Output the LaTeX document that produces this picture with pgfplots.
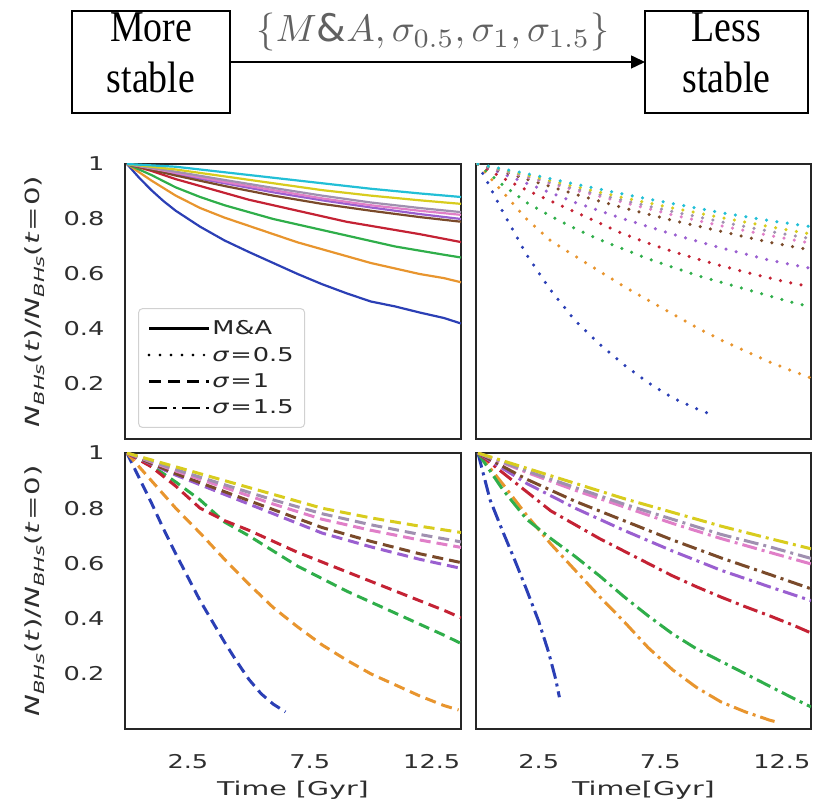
\documentclass[border=0pt]{standalone}
\usepackage{pgfplots}
\pgfplotsset{compat=1.18}
\usepackage{fontspec}
\usepackage{graphicx}
\usetikzlibrary{arrows.meta}
\setmainfont{DejaVu Sans}
\newfontfamily\tickfont[FakeStretch=1.35, ItalicFont={DejaVu Sans Oblique}]{DejaVu Sans}
\newfontfamily\labfont[FakeStretch=1.5, ItalicFont={DejaVu Sans Oblique}]{DejaVu Sans}
\newfontfamily\seriffont[FakeStretch=0.86]{Liberation Serif}

\definecolor{c1}{HTML}{2B3FB5}
\definecolor{c2}{HTML}{E8952E}
\definecolor{c3}{HTML}{2FAE4A}
\definecolor{c4}{HTML}{C42234}
\definecolor{c5}{HTML}{9A5FD0}
\definecolor{c6}{HTML}{7A4A2A}
\definecolor{c7}{HTML}{E07FC8}
\definecolor{c8}{HTML}{A090B0}
\definecolor{c9}{HTML}{D8CC1E}
\definecolor{c10}{HTML}{22BFD6}

\tikzset{
 solidl/.style={line width=2.2pt, solid},
 dotl/.style={line width=3.5pt, line cap=round, dash pattern=on 0pt off 10.5pt},
 dashl/.style={line width=3pt, dash pattern=on 11pt off 6pt},
 dashdotl/.style={line width=3pt, dash pattern=on 15pt off 5pt on 3pt off 5pt},
}

\newcommand{\sub}[1]{\raisebox{-0.25em}{\fontsize{14}{14}\selectfont\itshape #1}}
\newcommand{\ylab}{\textit{N}\sub{BHs}(\textit{t})/\textit{N}\sub{BHs}(\textit{t}\kern1pt=\kern1pt0)}

\pgfplotsset{
 base/.style={
  scale only axis, anchor=south west,
  xmin=-0.08, xmax=13.7, ymin=0, ymax=1,
  axis line style={line width=1.8pt, draw=black!85},
  major tick length=0pt, tick style={draw=none},
  /pgf/number format/assume math mode=true,
  tick label style={font=\fontsize{19}{19}\tickfont, text=black!82},
  yticklabel style={anchor=east, xshift=-17pt},
  xticklabel style={anchor=north, yshift=-22pt},
  every axis y label/.style={at={(axis description cs:-0.268,0.5)}, rotate=90, anchor=center, font=\fontsize{19.5}{19.5}\labfont, text=black!82},
  every axis x label/.style={at={(axis description cs:0.5,0)}, anchor=center, yshift=-61pt, font=\fontsize{19}{19}\labfont, text=black!82},
  no markers, clip=true,
 },
}

\begin{document}
\begin{tikzpicture}
\useasboundingbox (0,0) rectangle (822pt,803pt);

% ---------------- top-left: M&A (solid)
\begin{axis}[base, at={(125pt,364pt)}, width=336pt, height=275pt,
  xtick=\empty, ytick={0.2,0.4,0.6,0.8,1}, yticklabels={0.2,0.4,0.6,0.8,1},
  ylabel={\ylab},
  legend style={at={(0.039,0.04)}, anchor=south west, draw=black!18, line width=1pt,
    rounded corners=4pt, fill=white, font=\fontsize{19}{19}\tickfont, text=black!85,
    row sep=7pt, inner xsep=9pt, inner ysep=10pt},
  legend cell align=left,
  legend image code/.code={\draw[#1] (0pt,0pt) -- (50pt,0pt); \path (0pt,0pt) -- (60pt,0pt);}]
\addplot[c1, solidl, forget plot] coordinates {(0,1)(0.5,0.95)(1,0.905)(1.5,0.865)(2,0.83)(3,0.772)(4,0.722)(5,0.68)(6,0.64)(7,0.60)(8,0.563)(9,0.53)(10,0.50)(11,0.482)(12,0.46)(13,0.44)(13.7,0.42)};
\addplot[c2, solidl, forget plot] coordinates {(0,1)(1,0.94)(2,0.885)(3,0.84)(4,0.805)(5,0.775)(6,0.745)(7,0.715)(8,0.69)(9,0.665)(10,0.64)(11,0.62)(12,0.60)(13,0.585)(13.7,0.57)};
\addplot[c3, solidl, forget plot] coordinates {(0,1)(1,0.96)(2,0.915)(3,0.88)(4,0.85)(5,0.825)(6,0.80)(7,0.78)(8,0.76)(9,0.74)(10,0.72)(11,0.70)(12,0.685)(13,0.67)(13.7,0.66)};
\addplot[c4, solidl, forget plot] coordinates {(0,1)(1,0.975)(2,0.945)(3,0.92)(4,0.895)(5,0.87)(6,0.85)(7,0.83)(8,0.81)(9,0.79)(10,0.775)(11,0.76)(12,0.745)(13,0.728)(13.7,0.716)};
\addplot[c5, solidl, forget plot] coordinates {(0,1)(2,0.963)(4,0.93)(6,0.897)(8,0.868)(10,0.842)(12,0.818)(13.7,0.80)};
\addplot[c6, solidl, forget plot] coordinates {(0,1)(2,0.958)(4,0.92)(6,0.885)(8,0.855)(10,0.83)(12,0.807)(13.7,0.79)};
\addplot[c7, solidl, forget plot] coordinates {(0,1)(2,0.968)(4,0.935)(6,0.905)(8,0.875)(10,0.85)(12,0.83)(13.7,0.815)};
\addplot[c8, solidl, forget plot] coordinates {(0,1)(2,0.972)(4,0.942)(6,0.913)(8,0.885)(10,0.86)(12,0.84)(13.7,0.825)};
\addplot[c9, solidl, forget plot] coordinates {(0,1)(2,0.98)(4,0.955)(6,0.93)(8,0.905)(10,0.885)(12,0.868)(13.7,0.855)};
\addplot[c10, solidl, forget plot] coordinates {(0,1)(2,0.99)(4,0.97)(6,0.95)(8,0.93)(10,0.91)(12,0.893)(13.7,0.88)};
\addlegendimage{black, line width=2.6pt}
\addlegendentry{M\&A}
\addlegendimage{black, line width=2.8pt, line cap=round, dash pattern=on 0pt off 11pt}
\addlegendentry{\textit{σ}\kern1pt=\kern1pt0.5}
\addlegendimage{black, line width=2.6pt, dash pattern=on 12pt off 7pt}
\addlegendentry{\textit{σ}\kern1pt=\kern1pt1}
\addlegendimage{black, line width=2.6pt, dash pattern=on 18pt off 6pt on 3pt off 6pt}
\addlegendentry{\textit{σ}\kern1pt=\kern1pt1.5}
\end{axis}

% ---------------- top-right: sigma 0.5 (dotted)
\begin{axis}[base, at={(476pt,364pt)}, width=335pt, height=275pt,
  xtick=\empty, ytick=\empty]
\addplot[c1, dotl] coordinates {(0,1)(1,0.83)(2,0.67)(3,0.54)(4,0.43)(5,0.345)(6,0.27)(7,0.205)(8,0.15)(9,0.11)(9.45,0.094)};
\addplot[c2, dotl] coordinates {(0,1)(1,0.90)(2,0.80)(3,0.72)(4,0.665)(5,0.61)(6,0.555)(7,0.505)(8,0.455)(9,0.405)(10,0.36)(11,0.32)(12,0.28)(13,0.245)(13.7,0.222)};
\addplot[c3, dotl] coordinates {(0,1)(1,0.925)(2,0.86)(3,0.81)(4,0.765)(5,0.725)(6,0.69)(7,0.655)(8,0.625)(9,0.595)(10,0.57)(11,0.545)(12,0.52)(13,0.495)(13.7,0.48)};
\addplot[c4, dotl] coordinates {(0,1)(1,0.95)(2,0.905)(3,0.865)(4,0.825)(5,0.785)(6,0.745)(7,0.712)(8,0.682)(9,0.655)(10,0.63)(11,0.607)(12,0.585)(13,0.565)(13.7,0.553)};
\addplot[c5, dotl] coordinates {(0,1)(2,0.93)(4,0.86)(6,0.80)(8,0.745)(10,0.695)(12,0.65)(13.7,0.62)};
\addplot[c6, dotl] coordinates {(0,1)(2,0.945)(4,0.89)(6,0.84)(8,0.795)(10,0.755)(12,0.715)(13.7,0.687)};
\addplot[c7, dotl] coordinates {(0,1)(2,0.952)(4,0.905)(6,0.86)(8,0.815)(10,0.775)(12,0.74)(13.7,0.712)};
\addplot[c8, dotl] coordinates {(0,1)(2,0.955)(4,0.91)(6,0.867)(8,0.827)(10,0.79)(12,0.755)(13.7,0.728)};
\addplot[c9, dotl] coordinates {(0,1)(2,0.96)(4,0.918)(6,0.877)(8,0.84)(10,0.805)(12,0.772)(13.7,0.745)};
\addplot[c10, dotl] coordinates {(0,1)(2,0.965)(4,0.927)(6,0.89)(8,0.856)(10,0.823)(12,0.794)(13.7,0.772)};
\end{axis}

% ---------------- bottom-left: sigma 1 (dashed)
\begin{axis}[base, at={(125pt,74pt)}, width=336pt, height=276pt,
  xtick={2.5,7.5,12.5}, xticklabels={2.5,7.5,12.5},
  ytick={0.2,0.4,0.6,0.8,1}, yticklabels={0.2,0.4,0.6,0.8,1},
  ylabel={\ylab}, xlabel={Time [Gyr]}]
\addplot[c1, dashl] coordinates {(0,1)(0.5,0.91)(1,0.82)(1.5,0.725)(2,0.635)(2.5,0.55)(3,0.465)(3.5,0.39)(4,0.315)(4.5,0.245)(5,0.18)(5.5,0.128)(6,0.09)(6.5,0.062)};
\addplot[c2, dashl] coordinates {(0,1)(1,0.90)(2,0.80)(3,0.71)(4,0.615)(5,0.525)(6,0.44)(7,0.37)(8,0.305)(9,0.25)(10,0.20)(11,0.16)(12,0.12)(13,0.085)(13.6,0.069)};
\addplot[c3, dashl] coordinates {(0,1)(1,0.955)(2,0.895)(3,0.83)(4,0.75)(5,0.70)(6,0.645)(7,0.59)(8,0.545)(9,0.50)(10,0.46)(11,0.42)(12,0.38)(13,0.34)(13.7,0.31)};
\addplot[c4, dashl] coordinates {(0,1)(1,0.95)(2,0.88)(3,0.80)(4,0.755)(5,0.72)(6,0.68)(7,0.64)(8,0.605)(9,0.57)(10,0.535)(11,0.50)(12,0.465)(13,0.43)(13.7,0.403)};
\addplot[c5, dashl] coordinates {(0,1)(2,0.92)(4,0.85)(6,0.78)(8,0.71)(10,0.66)(12,0.615)(13.7,0.582)};
\addplot[c6, dashl] coordinates {(0,1)(2,0.925)(4,0.86)(6,0.795)(8,0.73)(10,0.68)(12,0.635)(13.7,0.603)};
\addplot[c7, dashl] coordinates {(0,1)(2,0.935)(4,0.875)(6,0.815)(8,0.76)(10,0.72)(12,0.685)(13.7,0.658)};
\addplot[c8, dashl] coordinates {(0,1)(2,0.94)(4,0.885)(6,0.83)(8,0.78)(10,0.74)(12,0.705)(13.7,0.678)};
\addplot[c9, dashl] coordinates {(0,1)(2,0.95)(4,0.90)(6,0.85)(8,0.80)(10,0.765)(12,0.735)(13.7,0.712)};
\end{axis}

% ---------------- bottom-right: sigma 1.5 (dash-dot)
\begin{axis}[base, at={(476pt,74pt)}, width=335pt, height=276pt,
  xtick={2.5,7.5,12.5}, xticklabels={2.5,7.5,12.5},
  ytick=\empty, xlabel={Time[Gyr]}]
\addplot[c1, dashdotl] coordinates {(0,1)(0.5,0.83)(1,0.72)(1.5,0.615)(2,0.505)(2.5,0.39)(2.9,0.28)(3.2,0.18)(3.35,0.115)};
\addplot[c2, dashdotl] coordinates {(0,1)(1,0.89)(2,0.775)(3,0.67)(4,0.575)(5,0.48)(6,0.39)(7,0.295)(8,0.215)(9,0.15)(10,0.098)(11,0.062)(12,0.032)(12.3,0.025)};
\addplot[c3, dashdotl] coordinates {(0,1)(1,0.87)(2,0.76)(3,0.69)(4,0.625)(5,0.555)(6,0.48)(7,0.41)(8,0.345)(9,0.29)(10,0.245)(11,0.20)(12,0.155)(13,0.11)(13.7,0.08)};
\addplot[c4, dashdotl] coordinates {(0,1)(1,0.93)(2,0.86)(3,0.79)(4,0.74)(5,0.69)(6,0.645)(7,0.60)(8,0.555)(9,0.515)(10,0.478)(11,0.443)(12,0.41)(13,0.375)(13.7,0.348)};
\addplot[c5, dashdotl] coordinates {(0,1)(2,0.89)(4,0.80)(6,0.72)(8,0.645)(10,0.575)(12,0.515)(13.7,0.465)};
\addplot[c6, dashdotl] coordinates {(0,1)(2,0.905)(4,0.825)(6,0.755)(8,0.685)(10,0.62)(12,0.56)(13.7,0.508)};
\addplot[c7, dashdotl] coordinates {(0,1)(2,0.93)(4,0.865)(6,0.805)(8,0.745)(10,0.69)(12,0.64)(13.7,0.598)};
\addplot[c8, dashdotl] coordinates {(0,1)(2,0.935)(4,0.875)(6,0.815)(8,0.76)(10,0.705)(12,0.66)(13.7,0.618)};
\addplot[c9, dashdotl] coordinates {(0,1)(2,0.945)(4,0.89)(6,0.835)(8,0.785)(10,0.735)(12,0.69)(13.7,0.653)};
\end{axis}

% ---------------- top diagram
\draw[line width=1.5pt] (72pt,690pt) rectangle (230pt,792pt);
\draw[line width=1.5pt] (645pt,690pt) rectangle (808pt,792pt);
\draw[line width=1.5pt, -{Triangle[length=14pt,width=13pt]}] (230pt,741pt) -- (645pt,741pt);
\node[anchor=base, font=\fontsize{44}{44}\seriffont] at (151pt,761pt) {More};
\node[anchor=base, font=\fontsize{44}{44}\seriffont] at (151pt,710pt) {stable};
\node[anchor=base, font=\fontsize{44}{44}\seriffont] at (726.5pt,761pt) {Less};
\node[anchor=base, font=\fontsize{44}{44}\seriffont] at (726.5pt,710pt) {stable};
\node[text=black!62] at (433pt,771pt) {\scalebox{3.8}{$\{M\&A,\sigma_{0.5},\sigma_1,\sigma_{1.5}\}$}};
\end{tikzpicture}
\end{document}
